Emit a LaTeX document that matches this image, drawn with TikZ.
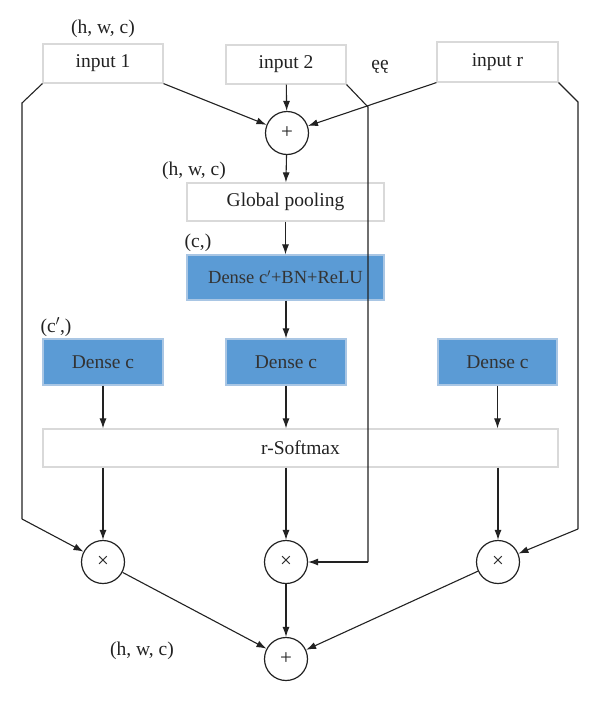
\documentclass[tikz,border=0pt]{standalone}
\usepackage{fontspec}
\setmainfont{Liberation Serif}
\usetikzlibrary{arrows.meta}
\definecolor{boxline}{HTML}{D9D9D9}
\definecolor{bluefill}{HTML}{5B9BD5}
\definecolor{blueline}{HTML}{A9C6E4}
\definecolor{ink}{HTML}{222222}
\definecolor{bluetext}{HTML}{333333}
\tikzset{
  plainbox/.style={draw=boxline, line width=1.2pt, fill=white, inner sep=0pt, text=ink,
    font=\fontsize{19.5}{21}\selectfont},
  bluebox/.style={draw=blueline, line width=1.2pt, fill=bluefill, inner sep=0pt, text=bluetext,
    font=\fontsize{19.5}{21}\selectfont},
  opnode/.style={draw=ink, circle, line width=1.2pt, minimum size=43pt, inner sep=0pt, fill=white,
    font=\fontsize{21}{21}\selectfont, text=ink},
  lbl/.style={text=ink, font=\fontsize{19.5}{21}\selectfont, inner sep=0pt},
  conn/.style={draw=ink, line width=1.1pt, -{Latex[length=10pt,width=7pt]}},
  wire/.style={draw=ink, line width=1.1pt},
}
\begin{document}
\begin{tikzpicture}[x=1pt,y=-1pt]
\useasboundingbox (0,0) rectangle (600,702);

% input boxes
\node[plainbox, minimum width=120pt, minimum height=39pt] (in1) at (103,63.5) {input 1};
\node[plainbox, minimum width=120pt, minimum height=39pt] (in2) at (286,64.5) {input 2};
\node[plainbox, minimum width=121pt, minimum height=40pt] (inr) at (497.5,62) {input r};

% labels
\node[lbl] (l1) at (103,29) {(h, w, c)};
\node[lbl] (dots) at (380,67) {ęę};
\node[lbl] (l2) at (194,171) {(h, w, c)};
\node[lbl] (l3) at (198,243) {(c,)};
\node[lbl] (l4) at (56,327) {(c$'$,)};
\node[lbl] (l5) at (142,651) {(h, w, c)};

% sum
\node[opnode] (plus1) at (287,133) {+};

% pipeline
\node[plainbox, minimum width=197pt, minimum height=38pt] (gp) at (285.5,202) {Global pooling};
\node[bluebox, minimum width=197pt, minimum height=45pt, font=\fontsize{18.5}{20}\selectfont] (dense1) at (285.5,277.5) {Dense c$'$+BN+ReLU};

\node[bluebox, minimum width=120pt, minimum height=46pt] (dl) at (103,362) {Dense c};
\node[bluebox, minimum width=120pt, minimum height=46pt] (dm) at (286,362) {Dense c};
\node[bluebox, minimum width=119pt, minimum height=46pt] (dr) at (497.5,362) {Dense c};

\node[plainbox, minimum width=515pt, minimum height=38pt] (soft) at (300.5,448) {r-Softmax};

\node[opnode] (m1) at (103,562) {×};
\node[opnode] (m2) at (286,562) {×};
\node[opnode] (m3) at (498,562) {×};

\node[opnode] (plus2) at (286,659) {+};

% bypass wire corners
\coordinate (a1) at (22,103);
\coordinate (a2) at (22,519);
\coordinate (b1) at (368,107);
\coordinate (b2) at (368,562);
\coordinate (c1) at (578,102);
\coordinate (c2) at (578,529);

% connectors into the first sum
\draw[conn] (in1.south east) -- (plus1);
\draw[conn] (in2) -- (plus1);
\draw[conn] (inr.south west) -- (plus1);

\draw[conn] (plus1) -- (gp);
\draw[conn] (gp) -- (dense1);
\draw[conn] (dense1.south -| dm) -- (dm);

\draw[conn] (dl) -- (dl |- soft.north);
\draw[conn] (dm) -- (dm |- soft.north);
\draw[conn] (dr) -- (dr |- soft.north);

\draw[conn] (soft.south -| m1) -- (m1);
\draw[conn] (soft.south -| m2) -- (m2);
\draw[conn] (soft.south -| m3) -- (m3);

% bypass wires
\draw[wire] (in1.south west) -- (a1) -- (a2);
\draw[conn] (a2) -- (m1);
\draw[wire] (in2.south east) -- (b1) -- (b2);
\draw[conn] (b2) -- (m2.east);
\draw[wire] (inr.south east) -- (c1) -- (c2);
\draw[conn] (c2) -- (m3);

% final sum
\draw[conn] (m1) -- (plus2);
\draw[conn] (m2) -- (plus2);
\draw[conn] (m3) -- (plus2);
\end{tikzpicture}
\end{document}
